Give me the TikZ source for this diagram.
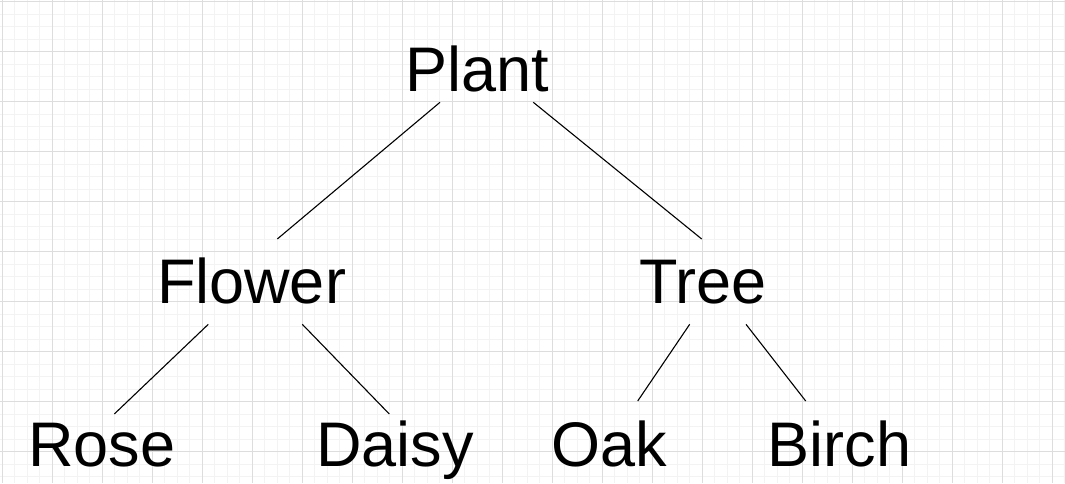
\documentclass[tikz,border=0pt]{standalone}
\usepackage{fontspec}
\setmainfont{Liberation Sans}
\begin{document}
\begin{tikzpicture}[x=1pt,y=-1pt,
  label/.style={font=\fontsize{63}{63}\selectfont, inner sep=0pt, outer sep=0pt, anchor=base west, text=black},
  edge/.style={draw=black, line width=1.1pt},
  minorgrid/.style={draw={rgb,255:red,243;green,243;blue,243}, line width=1pt},
  majorgrid/.style={draw={rgb,255:red,221;green,221;blue,221}, line width=1.2pt}]
\useasboundingbox (0,0) rectangle (1065,483);
\fill[white] (0,0) rectangle (1065,483);
% grid
\foreach \i in {0,...,85} {
  \draw[minorgrid] ({2.3+12.5*\i},0) -- ({2.3+12.5*\i},483);
}
\foreach \j in {0,...,38} {
  \draw[minorgrid] (0,{1.7+12.5*\j}) -- (1065,{1.7+12.5*\j});
}
\foreach \i in {0,...,21} {
  \draw[majorgrid] ({2.3+50*\i},0) -- ({2.3+50*\i},483);
}
\foreach \j in {0,...,9} {
  \draw[majorgrid] (0,{1.7+50*\j}) -- (1065,{1.7+50*\j});
}
% labels
\node[label] (plant)  at (405,91)    {Plant};
\node[label] (flower) at (157,303)   {Flower};
\node[label] (tree)   at (639.6,303) {Tree};
\node[label] (rose)   at (28,466.7)  {Rose};
\node[label] (daisy)  at (316,466.7) {Daisy};
\node[label] (oak)    at (551,466.7) {Oak};
\node[label] (birch)  at (767.7,466.7) {Birch};
% connector end points
\coordinate (plantL) at (440,102.3);
\coordinate (plantR) at (533.3,102.3);
\coordinate (flowerT) at (277.3,239);
\coordinate (treeT) at (701.7,239);
\coordinate (flowerL) at (208.3,324.3);
\coordinate (flowerR) at (302.3,324.3);
\coordinate (roseT) at (114.3,414);
\coordinate (daisyT) at (389.3,414);
\coordinate (treeL) at (689.7,324.3);
\coordinate (treeR) at (746,324.3);
\coordinate (oakT) at (637.7,401);
\coordinate (birchT) at (805.7,401);
% connectors
\draw[edge] (plantL) -- (flowerT);
\draw[edge] (plantR) -- (treeT);
\draw[edge] (flowerL) -- (roseT);
\draw[edge] (flowerR) -- (daisyT);
\draw[edge] (treeL) -- (oakT);
\draw[edge] (treeR) -- (birchT);
\end{tikzpicture}
\end{document}
